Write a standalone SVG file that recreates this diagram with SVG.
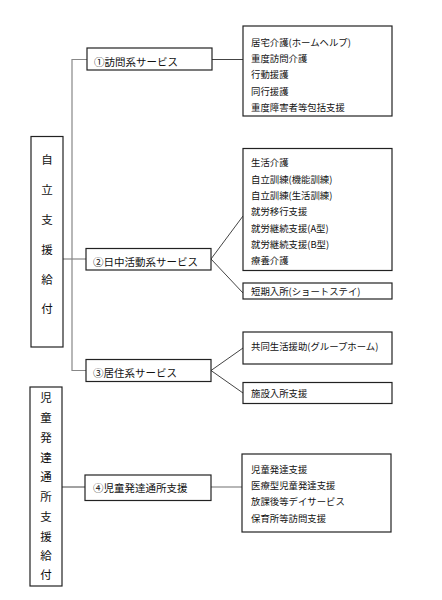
<svg xmlns="http://www.w3.org/2000/svg" width="442" height="600" viewBox="0 0 442 600">
<style>
  .box { fill: #ffffff; stroke: #222; stroke-width: 1.2; }
  .line { fill: none; stroke: #444; stroke-width: 1; }
  .gline { fill: none; stroke: #888; stroke-width: 1.2; }
  .lbl { font-family: "Noto Sans CJK JP", "Noto Sans", sans-serif; font-size: 10.5px; fill: #111; }
  .item { font-family: "Noto Sans CJK JP", "Noto Sans", sans-serif; font-size: 9.4px; fill: #111; }
  .vt { font-family: "Noto Sans CJK JP", "Noto Sans", sans-serif; font-size: 11.5px; fill: #111; text-anchor: middle; }
</style>
<rect width="442" height="600" fill="#ffffff"/>

<g id="connectors">
  <polyline class="gline" points="87,59.5 72,59.5 72,370.5 86,370.5"/>
  <line class="gline" x1="63" y1="259" x2="86" y2="259"/>
  <line class="line" x1="212" y1="59.5" x2="243" y2="59.5"/>
  <line class="line" x1="211" y1="259" x2="243" y2="216"/>
  <line class="line" x1="211" y1="259" x2="243" y2="293"/>
  <line class="line" x1="211" y1="370.5" x2="243" y2="348"/>
  <line class="line" x1="211" y1="370.5" x2="243" y2="393"/>
  <line class="line" x1="62" y1="487" x2="85" y2="487"/>
  <line class="gline" x1="211" y1="487" x2="242" y2="487"/>
</g>

<g id="jiritsu">
  <rect class="box" x="31" y="136.5" width="32" height="210.5"/>
  <text class="vt" x="47" y="164">自</text>
  <text class="vt" x="47" y="194">立</text>
  <text class="vt" x="47" y="224">支</text>
  <text class="vt" x="47" y="254">援</text>
  <text class="vt" x="47" y="284">給</text>
  <text class="vt" x="47" y="313">付</text>
</g>

<g id="jido">
  <rect class="box" x="30" y="387" width="32" height="199"/>
  <text class="vt" x="46" y="402">児</text>
  <text class="vt" x="46" y="422">童</text>
  <text class="vt" x="46" y="442">発</text>
  <text class="vt" x="46" y="462">達</text>
  <text class="vt" x="46" y="481">通</text>
  <text class="vt" x="46" y="501">所</text>
  <text class="vt" x="46" y="521">支</text>
  <text class="vt" x="46" y="541">援</text>
  <text class="vt" x="46" y="560">給</text>
  <text class="vt" x="46" y="579">付</text>
</g>

<g id="houmon">
  <rect class="box" x="87" y="48" width="125" height="22"/>
  <text class="lbl" x="94" y="65.5">①訪問系サービス</text>
</g>

<g id="houmon-items">
  <rect class="box" x="243" y="26" width="149" height="90"/>
  <text class="item" x="251" y="46">居宅介護(ホームヘルプ)</text>
  <text class="item" x="251" y="62">重度訪問介護</text>
  <text class="item" x="251" y="78">行動援護</text>
  <text class="item" x="251" y="94.5">同行援護</text>
  <text class="item" x="251" y="110.5">重度障害者等包括支援</text>
</g>

<g id="nichu">
  <rect class="box" x="86" y="248.5" width="125" height="21.5"/>
  <text class="lbl" x="93" y="265.5">②日中活動系サービス</text>
</g>

<g id="nichu-items">
  <rect class="box" x="243" y="148.5" width="149" height="122"/>
  <text class="item" x="251" y="166">生活介護</text>
  <text class="item" x="251" y="182.5">自立訓練(機能訓練)</text>
  <text class="item" x="251" y="198.5">自立訓練(生活訓練)</text>
  <text class="item" x="251" y="215">就労移行支援</text>
  <text class="item" x="251" y="231.5">就労継続支援(A型)</text>
  <text class="item" x="251" y="247.5">就労継続支援(B型)</text>
  <text class="item" x="251" y="264">療養介護</text>
</g>

<g id="tanki">
  <rect class="box" x="243" y="283" width="149" height="16"/>
  <text class="item" x="251" y="295">短期入所(ショートステイ)</text>
</g>

<g id="kyoju">
  <rect class="box" x="86" y="359.5" width="125" height="22"/>
  <text class="lbl" x="93" y="376.5">③居住系サービス</text>
</g>

<g id="group-home">
  <rect class="box" x="243" y="332" width="149" height="32"/>
  <text class="item" x="251" y="350">共同生活援助(グループホーム)</text>
</g>

<g id="shisetsu">
  <rect class="box" x="243" y="382.5" width="149" height="21"/>
  <text class="item" x="251" y="397">施設入所支援</text>
</g>

<g id="jido-tsusho">
  <rect class="box" x="85" y="475" width="126" height="25.5"/>
  <text class="lbl" x="93" y="492">④児童発達通所支援</text>
</g>

<g id="jido-items">
  <rect class="box" x="242" y="454" width="149" height="78"/>
  <text class="item" x="251" y="473">児童発達支援</text>
  <text class="item" x="251" y="488.5">医療型児童発達支援</text>
  <text class="item" x="251" y="505">放課後等デイサービス</text>
  <text class="item" x="251" y="522">保育所等訪問支援</text>
</g>
</svg>
